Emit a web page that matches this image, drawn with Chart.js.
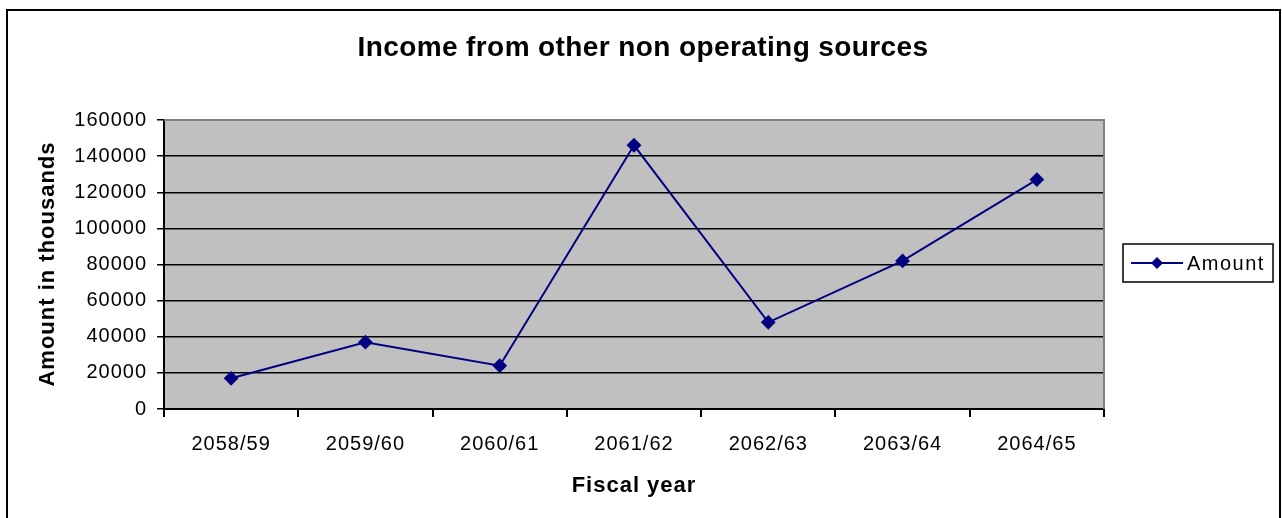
<!DOCTYPE html>
<html>
<head>
<meta charset="utf-8">
<title>Income from other non operating sources</title>
<script src="https://cdn.jsdelivr.net/npm/chart.js@4"></script>
<style>
  html, body { margin: 0; padding: 0; background: #ffffff; }
  #wrap { width: 1282px; height: 518px; }
</style>
</head>
<body>
<div id="wrap"><canvas id="chart" width="1282" height="518"></canvas></div>
<script>
// Fiscal years on the category axis
const fiscalYears = ['2058/59', '2059/60', '2060/61', '2061/62', '2062/63', '2063/64', '2064/65'];
// Income from other non operating sources, in thousands
const amounts = [17000, 37000, 24000, 146000, 48000, 82000, 127000];
// Value axis range and step
const yMin = 0;
const yMax = 160000;
const yStep = 20000;

const chartTitle = 'Income from other non operating sources';
const xTitle = 'Fiscal year';
const yTitle = 'Amount in thousands';
const seriesLabel = 'Amount';

const FONT = '"Liberation Sans", Arial, sans-serif';
const NAVY = '#000080';

// Plot-area fill, frame, titles, legend box and the outer border
const decorations = {
  id: 'decorations',
  beforeDraw(chart) {
    const { ctx, chartArea: a } = chart;
    ctx.save();
    ctx.fillStyle = '#ffffff';
    ctx.fillRect(0, 0, chart.width, chart.height);
    ctx.fillStyle = '#c0c0c0';
    ctx.fillRect(a.left, a.top, a.right - a.left, a.bottom - a.top);
    ctx.restore();
    // slightly wider glyph spacing for the tick labels
    ctx.letterSpacing = '1px';
  },
  beforeDatasetsDraw(chart) {
    const { ctx, chartArea: a } = chart;
    ctx.save();
    ctx.strokeStyle = '#808080';
    ctx.lineWidth = 2;
    ctx.beginPath();
    ctx.moveTo(a.left, a.top);
    ctx.lineTo(a.right, a.top);
    ctx.lineTo(a.right, a.bottom);
    ctx.stroke();
    ctx.restore();
  },
  afterDraw(chart) {
    const { ctx, chartArea: a } = chart;
    ctx.save();
    ctx.fillStyle = '#000000';
    ctx.textAlign = 'center';
    ctx.textBaseline = 'middle';

    // main title
    ctx.letterSpacing = '0.4px';
    ctx.font = 'bold 28px ' + FONT;
    ctx.fillText(chartTitle, 643, 48);

    // x axis title
    ctx.letterSpacing = '1px';
    ctx.font = 'bold 22px ' + FONT;
    ctx.fillText(xTitle, (a.left + a.right) / 2, 486);

    // y axis title
    ctx.save();
    ctx.translate(48, 264);
    ctx.rotate(-Math.PI / 2);
    ctx.fillText(yTitle, 0, 0);
    ctx.restore();

    // legend
    const ds = chart.data.datasets[0];
    const lx = 1123, ly = 244, lw = 150, lh = 38;
    ctx.strokeStyle = '#000000';
    ctx.lineWidth = 1.5;
    ctx.strokeRect(lx, ly, lw, lh);
    const cy = ly + lh / 2;
    ctx.strokeStyle = ds.borderColor;
    ctx.lineWidth = 2;
    ctx.beginPath();
    ctx.moveTo(lx + 8, cy);
    ctx.lineTo(lx + 60, cy);
    ctx.stroke();
    ctx.fillStyle = ds.pointBackgroundColor;
    const r = 6;
    ctx.beginPath();
    ctx.moveTo(lx + 34, cy - r);
    ctx.lineTo(lx + 34 + r, cy);
    ctx.lineTo(lx + 34, cy + r);
    ctx.lineTo(lx + 34 - r, cy);
    ctx.closePath();
    ctx.fill();
    ctx.fillStyle = '#000000';
    ctx.letterSpacing = '1.5px';
    ctx.font = '20px ' + FONT;
    ctx.textAlign = 'left';
    ctx.fillText(ds.label, lx + 64, cy + 1);

    // outer frame
    ctx.strokeStyle = '#000000';
    ctx.lineWidth = 2;
    ctx.strokeRect(7, 10, 1273, 520);
    ctx.restore();
  }
};

new Chart(document.getElementById('chart'), {
  type: 'line',
  data: {
    labels: fiscalYears,
    datasets: [{
      label: seriesLabel,
      data: amounts,
      borderColor: NAVY,
      backgroundColor: NAVY,
      pointBackgroundColor: NAVY,
      pointBorderColor: NAVY,
      borderWidth: 2,
      pointStyle: 'rectRot',
      pointRadius: 6,
      pointHoverRadius: 6,
      tension: 0,
      fill: false
    }]
  },
  options: {
    responsive: false,
    animation: false,
    devicePixelRatio: 1,
    layout: { padding: { left: 0, top: 120, right: 178, bottom: 0 } },
    plugins: {
      legend: { display: false },
      title: { display: false },
      tooltip: { enabled: false }
    },
    scales: {
      x: {
        type: 'category',
        offset: true,
        afterFit(scale) { scale.height = 109; },
        grid: {
          offset: true,
          drawOnChartArea: false,
          drawTicks: true,
          tickLength: 8,
          color: '#000000',
          lineWidth: 2
        },
        border: { display: true, color: '#000000', width: 2 },
        ticks: {
          color: '#000000',
          padding: 15,
          maxRotation: 0,
          font: { family: FONT, size: 20 }
        }
      },
      y: {
        min: yMin,
        max: yMax,
        afterFit(scale) { scale.width = 164; },
        grid: {
          drawTicks: true,
          tickLength: 7,
          color: (c) => (c.tick && c.tick.value === yMax ? '#808080' : '#000000'),
          tickColor: '#000000',
          lineWidth: 1.5
        },
        border: { display: true, color: '#000000', width: 2 },
        ticks: {
          stepSize: yStep,
          color: '#000000',
          padding: 10,
          font: { family: FONT, size: 20 },
          callback: (v) => String(v)
        }
      }
    }
  },
  plugins: [decorations]
});
</script>
</body>
</html>
